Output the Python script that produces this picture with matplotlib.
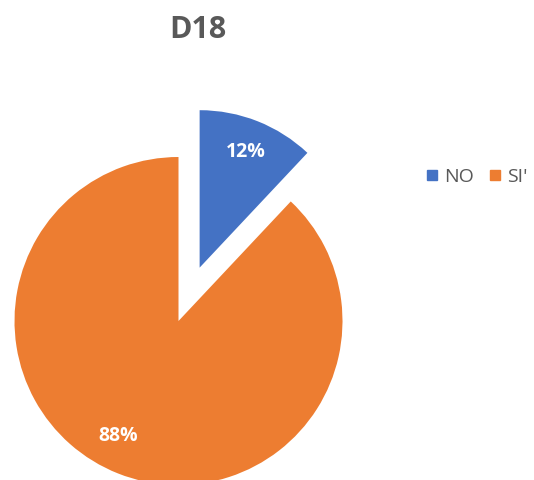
import matplotlib.pyplot as plt
from matplotlib.lines import Line2D

plt.rcParams['font.family'] = ['Open Sans', 'DejaVu Sans']

# ----- Data -----
labels = ["NO", "SI'"]
values = [12, 88]
colors = ["#4472C4", "#ED7D31"]
explode = [0.35, 0]

fig = plt.figure(figsize=(5.34, 4.8), dpi=100)
ax = fig.add_axes([0, 0, 1, 1])

# pie of radius 1, axes limits put the centre at (178.5, 321) px with 164 px per unit
cx, cy, scale = 178.5, 321, 164
wedges, texts, autotexts = ax.pie(values, colors=colors, explode=explode,
                                  startangle=90, counterclock=False,
                                  autopct="%1.0f%%", pctdistance=0.76,
                                  textprops=dict(color="white", fontsize=14, fontweight="bold"))
wedges[0].set_radius(0.96)
autotexts[1].set_position((-0.37, -0.70))

ax.set_xlim(-cx / scale, (534 - cx) / scale)
ax.set_ylim(-(480 - cy) / scale, cy / scale)
ax.set_aspect("auto")
ax.axis("off")

fig.text(198 / 534, 1 - 30 / 480, "D18", ha="center", va="center",
         fontsize=22, fontweight="bold", color="#595959")

handles = [Line2D([], [], marker="s", linestyle="", markersize=7, color=c) for c in colors]
fig.legend(handles, labels, loc="center", bbox_to_anchor=(477 / 534, 1 - 177 / 480),
           ncol=2, frameon=False, handlelength=0.6, handletextpad=0.3, columnspacing=0.8,
           fontsize=14, labelcolor="#595959")

fig.savefig("out.png", dpi=100)
